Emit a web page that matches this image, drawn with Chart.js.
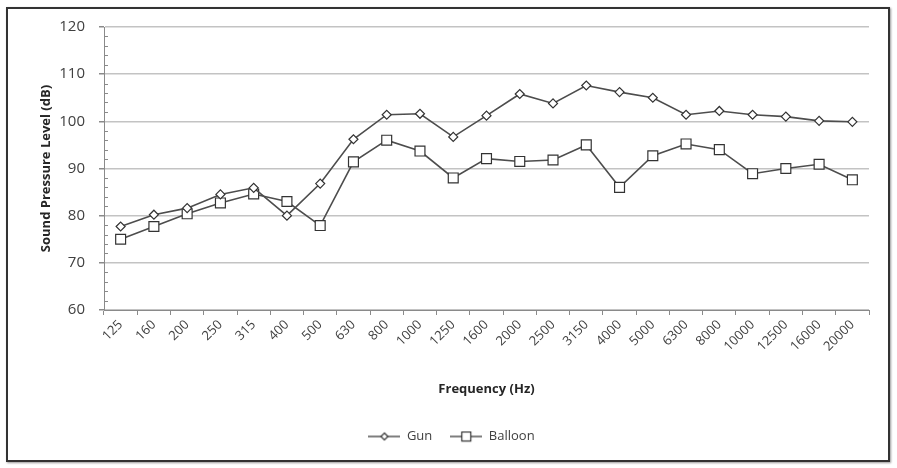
<!DOCTYPE html>
<html>
<head>
<meta charset="utf-8">
<script src="https://cdn.jsdelivr.net/npm/chart.js@4.4.1/dist/chart.umd.min.js"></script>
<style>
    body { margin: 0; background: #fff; }
    #frame {
        position: absolute; left: 6px; top: 7px;
        width: 880px; height: 451px;
        border: 2px solid #333;
        box-shadow: 1px 1px 2px #999;
        background: #fff;
    }
</style>
</head>
<body>
<div id="frame"><canvas id="myChart" width="880" height="451"></canvas></div>
<script>
// data
const frequencies = ['125', '160', '200', '250', '315', '400', '500', '630', '800', '1000', '1250',
    '1600', '2000', '2500', '3150', '4000', '5000', '6300', '8000', '10000', '12500', '16000', '20000'];
const gunLevels = [77.7, 80.2, 81.6, 84.5, 85.9, 80.0, 86.8, 96.2, 101.4, 101.6, 96.7,
    101.2, 105.8, 103.8, 107.6, 106.2, 105.0, 101.4, 102.2, 101.4, 101.0, 100.1, 99.9];
const balloonLevels = [75.0, 77.7, 80.4, 82.7, 84.6, 83.0, 77.9, 91.4, 96.0, 93.7, 88.0,
    92.1, 91.5, 91.8, 95.0, 86.0, 92.7, 95.2, 94.0, 88.9, 90.0, 90.9, 87.6];
const yMin = 60, yMax = 120, yStep = 10, yMinorStep = 2;

const FONT = "'Open Sans', 'DejaVu Sans', sans-serif";
const TEXT = '#404040';

// small ticks between the labelled ones on the y axis
const minorTicks = {
    id: 'minorTicks',
    afterDraw(chart) {
        const y = chart.scales.y;
        const ctx = chart.ctx;
        ctx.save();
        ctx.strokeStyle = '#8a8a8a';
        ctx.lineWidth = 1;
        for (let v = yMin; v <= yMax; v += yMinorStep) {
            if (v % yStep === 0) continue;
            const py = Math.round(y.getPixelForValue(v)) + 0.5;
            ctx.beginPath();
            ctx.moveTo(y.right, py);
            ctx.lineTo(y.right + 4, py);
            ctx.stroke();
        }
        ctx.restore();
    }
};

// legend icons: line with marker in the middle
function legendIcon(kind) {
    const c = document.createElement('canvas');
    c.width = 32; c.height = 12;
    const g = c.getContext('2d');
    g.strokeStyle = '#555';
    g.lineWidth = 1.5;
    g.beginPath(); g.moveTo(0, 6); g.lineTo(32, 6); g.stroke();
    g.fillStyle = '#fff';
    g.strokeStyle = '#333';
    g.lineWidth = 1.2;
    if (kind === 'diamond') {
        g.beginPath();
        g.moveTo(16, 2.5); g.lineTo(19.5, 6); g.lineTo(16, 9.5); g.lineTo(12.5, 6); g.closePath();
        g.fill(); g.stroke();
    } else {
        g.fillRect(11.5, 1.5, 9, 9);
        g.strokeRect(11.5, 1.5, 9, 9);
    }
    return c;
}
const icons = [legendIcon('diamond'), legendIcon('square')];

const ctx = document.getElementById('myChart');
const myChart = new Chart(ctx, {
    type: 'line',
    data: {
        labels: frequencies,
        datasets: [{
            label: 'Gun',
            data: gunLevels,
            borderColor: '#4d4d4d',
            borderWidth: 1.6,
            pointStyle: 'rectRot',
            pointRadius: 4.5,
            pointBackgroundColor: '#fff',
            pointBorderColor: '#333',
            pointBorderWidth: 1.2,
            tension: 0
        }, {
            label: 'Balloon',
            data: balloonLevels,
            borderColor: '#4d4d4d',
            borderWidth: 1.6,
            pointStyle: 'rect',
            pointRadius: 7,
            pointBackgroundColor: '#fff',
            pointBorderColor: '#333',
            pointBorderWidth: 1.2,
            tension: 0
        }]
    },
    options: {
        responsive: false,
        animation: false,
        layout: { padding: { left: 26, right: 19, top: 18, bottom: 7 } },
        scales: {
            x: {
                offset: true,
                grid: { offset: true, drawOnChartArea: false, tickLength: 5, tickColor: '#8a8a8a' },
                border: { color: '#8a8a8a', width: 1 },
                ticks: { minRotation: 45, maxRotation: 45, color: TEXT, font: { family: FONT, size: 13 }, padding: 2 },
                title: { display: true, text: 'Frequency (Hz)', color: '#262626',
                    font: { family: FONT, size: 13, weight: 'bold' }, padding: { top: 4, bottom: 15 } },
                afterFit(scale) { scale.height = 102; }
            },
            y: {
                min: yMin,
                max: yMax,
                ticks: { stepSize: yStep, color: TEXT, font: { family: FONT, size: 15 }, padding: 14 },
                grid: { color: '#c3c3c3', lineWidth: 1.5, tickLength: 5, tickColor: '#8a8a8a' },
                border: { color: '#8a8a8a', width: 1 },
                title: { display: true, text: 'Sound Pressure Level (dB)', color: '#262626',
                    font: { family: FONT, size: 13, weight: 'bold' }, padding: { top: 4, bottom: 4 } },
                afterFit(scale) {
                    scale.width = 70;
                    scale.paddingTop = 5;
                    scale.paddingBottom = 5;
                }
            }
        },
        plugins: {
            legend: {
                position: 'bottom',
                labels: {
                    usePointStyle: true,
                    pointStyleWidth: 32,
                    padding: 18,
                    color: TEXT,
                    font: { family: FONT, size: 13 },
                    generateLabels(chart) {
                        const items = Chart.defaults.plugins.legend.labels.generateLabels(chart);
                        items.forEach((it, i) => { it.pointStyle = icons[i]; });
                        return items;
                    }
                }
            },
            tooltip: { enabled: false }
        }
    },
    plugins: [minorTicks]
});
</script>
</body>
</html>
